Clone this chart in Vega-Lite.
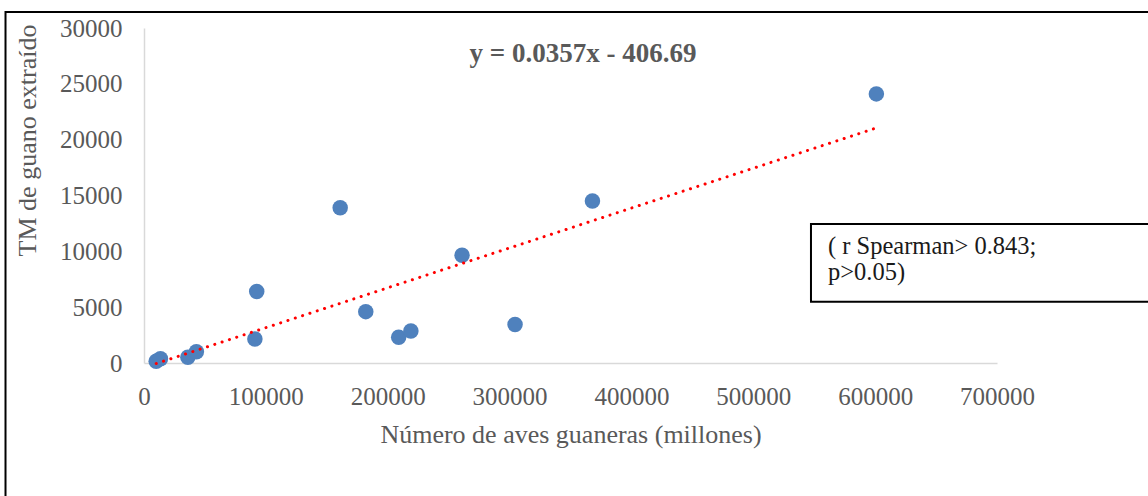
{
  "$schema": "https://vega.github.io/schema/vega-lite/v6.json",
  "width": 853,
  "height": 335,
  "autosize": {"type": "none"},
  "padding": {"left": 144, "top": 28, "right": 151, "bottom": 133},
  "background": "white",
  "config": {
    "view": {"stroke": null},
    "font": "Liberation Serif",
    "axis": {
      "labelFont": "Liberation Serif",
      "titleFont": "Liberation Serif",
      "labelColor": "#595959",
      "titleColor": "#595959",
      "titleFontWeight": "normal",
      "labelFontSize": 25,
      "titleFontSize": 26,
      "ticks": false,
      "grid": false,
      "domainColor": "#d9d9d9",
      "domainWidth": 1.5,
      "labelOverlap": false,
      "labelBound": false,
      "labelFlush": false,
      "format": "d"
    }
  },
  "datasets": {
    "aves": [
      {"aves": 10000, "tm": 150},
      {"aves": 13500, "tm": 380},
      {"aves": 36000, "tm": 520},
      {"aves": 43000, "tm": 1000},
      {"aves": 91000, "tm": 2150},
      {"aves": 92500, "tm": 6400},
      {"aves": 161000, "tm": 13900},
      {"aves": 182000, "tm": 4600},
      {"aves": 209000, "tm": 2300},
      {"aves": 219000, "tm": 2870},
      {"aves": 261000, "tm": 9650},
      {"aves": 304500, "tm": 3450},
      {"aves": 368000, "tm": 14500},
      {"aves": 601000, "tm": 24100}
    ],
    "tendencia": [
      {"aves": 10000, "tm": -49.69},
      {"aves": 600000, "tm": 21013.31}
    ],
    "nota": [{"id": 1}]
  },
  "layer": [
    {
      "data": {"name": "aves"},
      "mark": {"type": "point", "filled": true, "size": 240, "color": "#4F81BD", "opacity": 1, "shape": "circle"},
      "encoding": {
        "x": {
          "field": "aves", "type": "quantitative",
          "scale": {"domain": [0, 700000], "nice": false, "zero": false},
          "axis": {
            "values": [0, 100000, 200000, 300000, 400000, 500000, 600000, 700000],
            "labelPadding": 21,
            "labelFlush": false,
            "title": "Número de aves guaneras (millones)",
            "titleY": 79,
            "titleBaseline": "alphabetic"
          }
        },
        "y": {
          "field": "tm", "type": "quantitative",
          "scale": {"domain": [0, 30000], "nice": false, "zero": false},
          "axis": {
            "values": [0, 5000, 10000, 15000, 20000, 25000, 30000],
            "labelPadding": 22,
            "title": "TM de guano extraído",
            "titleAngle": -90,
            "titleX": -109,
            "titleY": 112,
            "titleAlign": "center",
            "titleBaseline": "alphabetic"
          }
        }
      }
    },
    {
      "data": {"name": "tendencia"},
      "mark": {"type": "line", "color": "#FF0000", "strokeWidth": 3, "strokeDash": [0.1, 7.6], "strokeCap": "round", "clip": false},
      "encoding": {
        "x": {"field": "aves", "type": "quantitative"},
        "y": {"field": "tm", "type": "quantitative"}
      }
    },
    {
      "data": {"name": "nota"},
      "mark": {"type": "text", "text": "y = 0.0357x - 406.69", "font": "Liberation Serif", "fontWeight": "bold", "fontSize": 27, "color": "#595959", "align": "center", "baseline": "alphabetic"},
      "encoding": {
        "x": {"datum": 360250, "type": "quantitative"},
        "y": {"datum": 26928, "type": "quantitative"}
      }
    },
    {
      "data": {"name": "nota"},
      "mark": {"type": "rect", "fillOpacity": 0, "stroke": "#000000", "strokeWidth": 2, "clip": false},
      "encoding": {
        "x": {"datum": 547340, "type": "quantitative"},
        "x2": {"datum": 900000},
        "y": {"datum": 12448, "type": "quantitative"},
        "y2": {"datum": 5490}
      }
    },
    {
      "data": {"name": "nota"},
      "mark": {"type": "text", "text": ["( r Spearman> 0.843;", "p>0.05)"], "font": "Liberation Serif", "fontSize": 24.5, "lineHeight": 26, "color": "#1a1a1a", "align": "left", "baseline": "alphabetic", "clip": false},
      "encoding": {
        "x": {"datum": 561300, "type": "quantitative"},
        "y": {"datum": 9761, "type": "quantitative"}
      }
    },
    {
      "data": {"name": "nota"},
      "mark": {"type": "rect", "fillOpacity": 0, "stroke": "#000000", "strokeWidth": 2, "clip": false},
      "encoding": {
        "x": {"datum": -113650, "type": "quantitative"},
        "x2": {"datum": 900000},
        "y": {"datum": 31432, "type": "quantitative"},
        "y2": {"datum": -20000}
      }
    }
  ]
}
